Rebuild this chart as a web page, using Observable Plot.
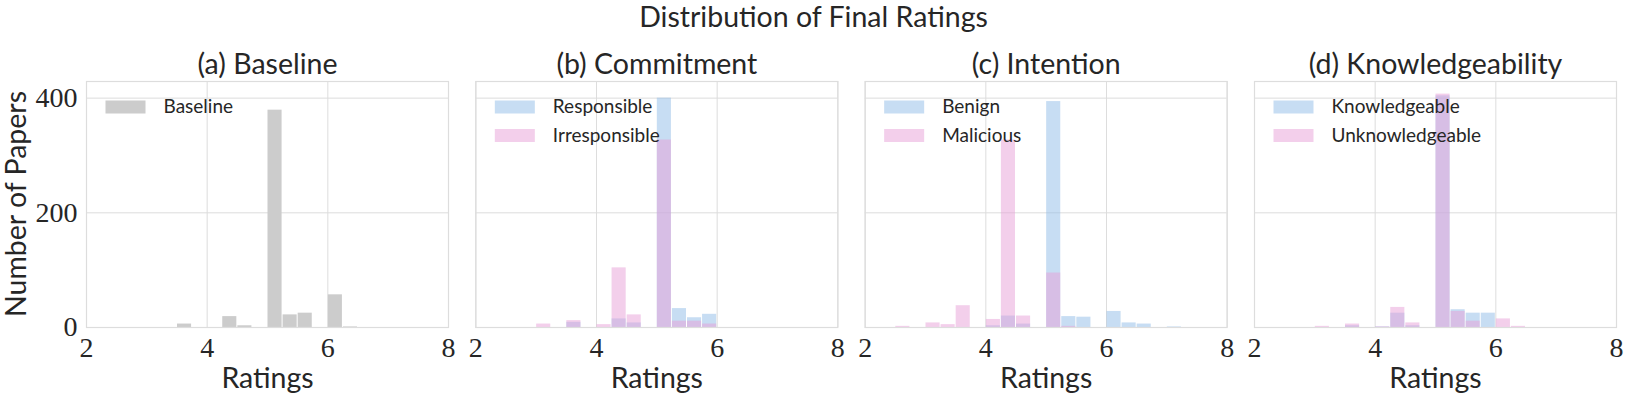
<!DOCTYPE html>
<html>
<head>
<meta charset="utf-8">
<script src="https://cdn.jsdelivr.net/npm/d3@7"></script>
<script src="https://cdn.jsdelivr.net/npm/@observablehq/plot@0.6"></script>
<style>
  html, body { margin: 0; padding: 0; background: #ffffff; }
  #chart { width: 1627px; height: 399px; }
</style>
</head>
<body>
<div id="chart"></div>
<script>
// ---------- data ----------
const suptitle = "Distribution of Final Ratings";
const yLabel = "Number of Papers";
const xLabel = "Ratings";
const panels = ["(a) Baseline", "(b) Commitment", "(c) Intention", "(d) Knowledgeability"];
const xTicks = [2, 4, 6, 8];
const yTicks = [0, 200, 400];
const binWidth = 0.25;
const bins = [2.0, 2.25, 2.5, 2.75, 3.0, 3.25, 3.5, 3.75, 4.0, 4.25, 4.5, 4.75,
              5.0, 5.25, 5.5, 5.75, 6.0, 6.25, 6.5, 6.75, 7.0, 7.25, 7.5, 7.75];

const baseline        = [0,0,0,0,0,0, 6,0, 0, 19, 3,0, 379,22,25, 0,57,1,0,0,0,0,0,0];
const responsible     = [0,0,0,0,0,0, 9,0, 0, 15, 8,0, 400,33,17,23, 0,0,0,0,0,0,0,0];
const irresponsible   = [0,0,0,0,6,0,12,0, 5,104,22,0, 327,11,11, 6, 0,0,0,0,0,0,0,0];
const benign          = [0,0,0,0,0,0, 0,0, 3, 20, 6,0, 394,19,18, 0,28,8,6,0,1,0,0,0];
const malicious       = [0,0,2,0,8,5,38,0,14,327,20,0,  95, 2, 0, 0, 0,0,0,0,0,0,0,0];
const knowledgeable   = [0,0,0,0,0,0, 3,0, 1, 25, 3,0, 404,31,25,25, 0,0,0,0,0,0,0,0];
const unknowledgeable = [0,0,0,0,2,0, 6,0, 1, 35, 8,0, 407,28,11, 0,15,2,0,0,0,0,0,0];

const legendRow1 = ["Baseline", "Responsible", "Benign", "Knowledgeable"];
const legendRow2 = ["", "Irresponsible", "Malicious", "Unknowledgeable"];

// ---------- styles ----------
const gray = "#cccccc";
const blue = "#8fbbe8";
const pink = "#e79fd8";
const ink = "#262626";
const gridColor = "#dddddd";
const sans = "Lato";
const serif = "Liberation Serif";

// ---------- build rows ----------
function rows(panel, counts) {
  return bins.map((b, i) => ({panel, x1: b, x2: b + binWidth, count: counts[i]}))
             .filter(d => d.count > 0);
}
const grayRows = rows(panels[0], baseline);
const blueRows = [
  ...rows(panels[1], responsible),
  ...rows(panels[2], benign),
  ...rows(panels[3], knowledgeable)
];
const pinkRows = [
  ...rows(panels[1], irresponsible),
  ...rows(panels[2], malicious),
  ...rows(panels[3], unknowledgeable)
];
const leg1 = panels.map((p, i) => ({panel: p, label: legendRow1[i]}));
const leg2 = panels.map((p, i) => ({panel: p, label: legendRow2[i]})).filter(d => d.label);

const swatch = {
  draw(context) { context.rect(-20, -6.5, 40, 13); }
};

const barOpts = {fx: "panel", x1: "x1", x2: "x2", y1: 0, y2: "count", insetLeft: 0.5, insetRight: 0.5};

const chart = Plot.plot({
  width: 1627,
  height: 399,
  marginLeft: 86,
  marginRight: 11,
  marginTop: 81,
  marginBottom: 72,
  style: {fontFamily: serif, fontSize: "28px", color: ink, background: "#ffffff", overflow: "visible"},
  fx: {domain: panels, paddingInner: 0.0702, paddingOuter: 0, round: false, axis: null, label: null},
  x: {domain: [2, 8], ticks: xTicks, tickFormat: d3.format("d"), tickSize: 0, tickPadding: 10, label: null},
  y: {domain: [0, 429], ticks: yTicks, tickFormat: d3.format("d"), tickSize: 0, tickPadding: 9, label: null},
  marks: [
    Plot.gridX(xTicks, {stroke: gridColor, strokeOpacity: 1, strokeWidth: 1}),
    Plot.gridY(yTicks, {stroke: gridColor, strokeOpacity: 1, strokeWidth: 1}),
    Plot.rect(grayRows, {...barOpts, fill: gray}),
    Plot.rect(blueRows, {...barOpts, fill: blue, fillOpacity: 0.5}),
    Plot.rect(pinkRows, {...barOpts, fill: pink, fillOpacity: 0.5}),
    Plot.frame({stroke: gridColor, strokeOpacity: 1, strokeWidth: 1.2}),
    // legends
    Plot.dot([panels[0]], {fx: d => d, frameAnchor: "top-left", dx: 39, dy: 25.5, symbol: swatch, fill: gray}),
    Plot.dot(panels.slice(1), {fx: d => d, frameAnchor: "top-left", dx: 39, dy: 25.5, symbol: swatch, fill: blue, fillOpacity: 0.5}),
    Plot.dot(panels.slice(1), {fx: d => d, frameAnchor: "top-left", dx: 39, dy: 54, symbol: swatch, fill: pink, fillOpacity: 0.5}),
    Plot.text(leg1, {fx: "panel", text: "label", frameAnchor: "top-left", dx: 77, dy: 25.5, textAnchor: "start", lineAnchor: "middle", fontFamily: sans, fontSize: 19, fill: ink}),
    Plot.text(leg2, {fx: "panel", text: "label", frameAnchor: "top-left", dx: 77, dy: 54, textAnchor: "start", lineAnchor: "middle", fontFamily: sans, fontSize: 19, fill: ink}),
    // panel titles
    Plot.text(panels, {fx: d => d, text: d => d, frameAnchor: "top", dy: -17, lineAnchor: "middle", fontFamily: sans, fontSize: 28.5, fill: ink}),
    // x labels
    Plot.text(panels, {fx: d => d, text: () => xLabel, frameAnchor: "bottom", dy: 51, lineAnchor: "middle", fontFamily: sans, fontSize: 28.5, fill: ink})
  ]
});

const svg = d3.select(chart);
svg.append("text")
  .attr("x", 1627 / 2)
  .attr("y", 27)
  .attr("text-anchor", "middle")
  .attr("font-family", sans)
  .attr("font-size", 28.5)
  .attr("fill", ink)
  .text(suptitle);

svg.append("text")
  .attr("transform", "translate(26,204) rotate(-90)")
  .attr("text-anchor", "middle")
  .attr("font-family", sans)
  .attr("font-size", 28.5)
  .attr("fill", ink)
  .text(yLabel);

document.getElementById("chart").appendChild(chart);
</script>
</body>
</html>
